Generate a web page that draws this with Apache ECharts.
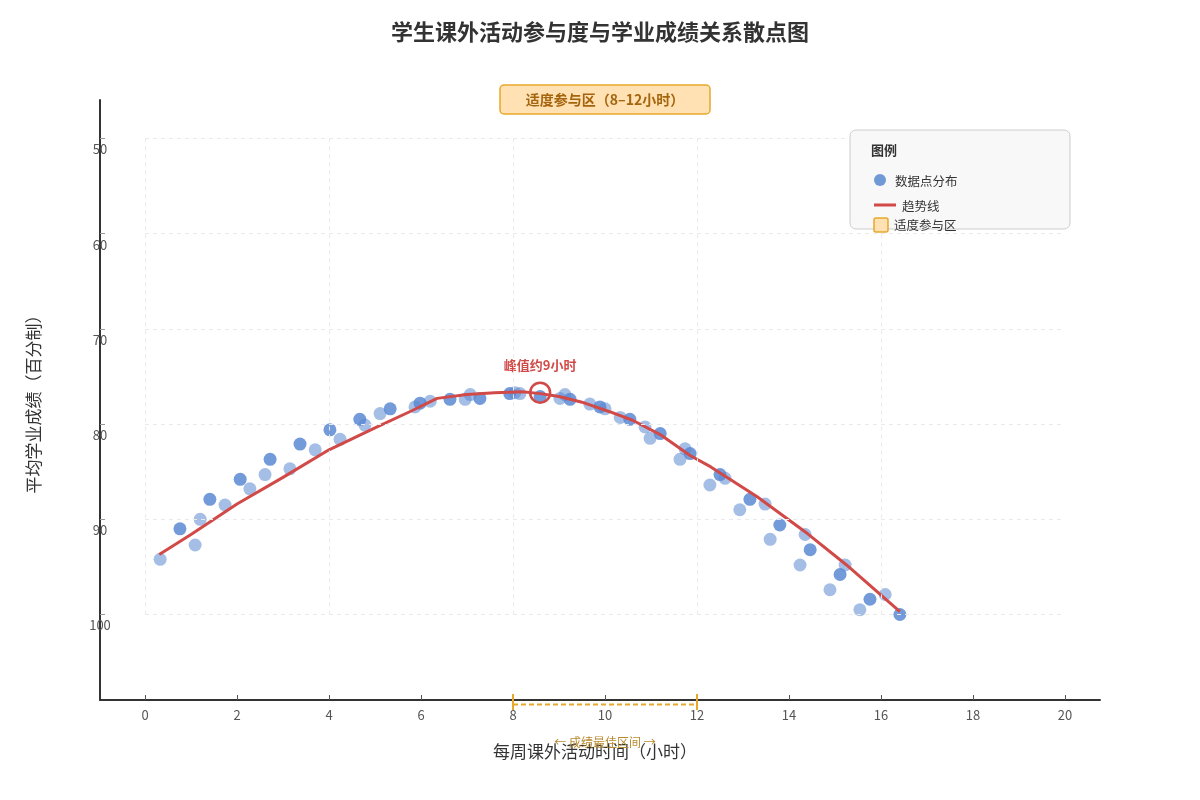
<!DOCTYPE html>
<html>
<head>
<meta charset="utf-8">
<title>学生课外活动参与度与学业成绩关系散点图</title>
<script src="https://cdn.jsdelivr.net/npm/echarts@6/dist/echarts.min.js"></script>
<style>
  html, body { margin: 0; padding: 0; background: #fff; }
  #main { width: 1200px; height: 800px; }
</style>
</head>
<body>
<div id="main"></div>
<script>
// 散点（浅色）
var lightPoints = [
  [0.33, 94.2], [1.09, 92.7], [1.20, 90.0], [1.74, 88.5], [2.28, 86.8], [2.61, 85.3],
  [3.15, 84.7], [3.70, 82.7], [4.24, 81.6], [4.78, 80.1], [5.11, 78.9], [5.87, 78.2],
  [6.20, 77.6], [6.96, 77.4], [7.07, 76.9], [8.04, 76.7], [8.15, 76.8], [9.02, 77.3],
  [9.13, 76.9], [9.67, 77.9], [10.00, 78.4], [10.33, 79.3], [10.87, 80.3], [10.98, 81.5],
  [11.63, 83.7], [11.74, 82.6], [12.28, 86.4], [12.61, 85.7], [12.93, 89.0], [13.48, 88.4],
  [13.59, 92.1], [14.24, 94.8], [14.35, 91.6], [14.89, 97.4], [15.22, 94.8], [15.54, 99.5],
  [16.09, 97.9]
];
// 散点（深色，重叠点）
var darkPoints = [
  [0.76, 91.0], [1.41, 87.9], [2.07, 85.8], [2.72, 83.7], [3.37, 82.1], [4.02, 80.6],
  [4.67, 79.5], [5.33, 78.4], [5.98, 77.8], [6.63, 77.4], [7.28, 77.3], [7.93, 76.8],
  [8.59, 77.1], [9.24, 77.4], [9.89, 78.2], [10.54, 79.5], [11.20, 81.0], [11.85, 83.1],
  [12.50, 85.3], [13.15, 87.9], [13.80, 90.6], [14.46, 93.2], [15.11, 95.8], [15.76, 98.4],
  [16.41, 100.0]
];
// 趋势线
var trendX = [0.31, 1, 2, 3, 4, 5, 5.8, 6.35, 7, 7.6, 8.2, 8.6, 9.0, 9.5, 10.1, 10.6, 11.2, 11.85, 12.3, 13.3, 14.4, 15.25, 16.41];
var trendY = [93.7, 91.6, 88.4, 85.6, 82.7, 80.4, 78.6, 77.3, 76.9, 76.7, 76.6, 76.8, 77.1, 77.7, 78.7, 79.6, 81.1, 83.3, 84.5, 87.6, 91.5, 94.8, 99.7];
// 峰值标注
var peakPoint = [8.59, 76.7];
// 适度参与区
var zoneRange = [8, 12];
// 刻度
var xTicks = [0, 2, 4, 6, 8, 10, 12, 14, 16, 18, 20];
var yTicks = [50, 60, 70, 80, 90, 100];
var xGridLines = [0, 4, 8, 12, 16];

var font = '"Noto Sans CJK SC", "Noto Sans", sans-serif';
var red = '#d14a48';
var blue = '#5b88d2';
var orange = '#e8a82a';

var chart = echarts.init(document.getElementById('main'));

// 网格虚线
var gridMarks = [];
xGridLines.forEach(function (v) {
  gridMarks.push([{ coord: [v, yTicks[0]] }, { coord: [v, yTicks[yTicks.length - 1]] }]);
});
yTicks.forEach(function (v) {
  gridMarks.push([{ coord: [xTicks[0], v] }, { coord: [xTicks[xTicks.length - 1], v] }]);
});

var option = {
  animation: false,
  textStyle: { fontFamily: font },
  title: {
    text: '学生课外活动参与度与学业成绩关系散点图',
    left: 'center',
    top: 16,
    textStyle: { fontSize: 22, fontWeight: 'bold', color: '#333', fontFamily: font }
  },
  grid: { left: 100, right: 100, top: 100, bottom: 100 },
  xAxis: {
    type: 'value',
    min: -0.978,
    max: 20.76,
    name: '每周课外活动时间（小时）',
    nameLocation: 'middle',
    nameGap: 43,
    nameTextStyle: { fontSize: 17, color: '#333', padding: [0, 10, 0, 0], fontFamily: font },
    axisLine: { onZero: false, lineStyle: { color: '#333', width: 2 } },
    axisTick: { inside: true, length: 5, customValues: xTicks, lineStyle: { color: '#555' } },
    axisLabel: { customValues: xTicks, margin: 9, fontSize: 13, color: '#555' },
    splitLine: { show: false }
  },
  yAxis: {
    type: 'value',
    inverse: true,
    min: 45.96,
    max: 108.98,
    name: '平均学业成绩（百分制）',
    nameLocation: 'middle',
    nameGap: 58,
    nameTextStyle: { fontSize: 17, color: '#333', fontFamily: font },
    axisLine: { show: true, onZero: false, lineStyle: { color: '#333', width: 2 } },
    axisTick: { show: true, inside: true, length: 5, customValues: yTicks, lineStyle: { color: '#999' } },
    axisLabel: {
      customValues: yTicks,
      margin: 0,
      align: 'center',
      lineHeight: 22,
      fontSize: 13,
      color: '#555',
      formatter: function (v) { return '\n' + v; }
    },
    splitLine: { show: false }
  },
  series: [
    {
      name: '网格',
      type: 'scatter',
      data: [],
      silent: true,
      markLine: {
        silent: true,
        symbol: 'none',
        label: { show: false },
        lineStyle: { color: '#eaeaea', type: [4, 4], width: 1 },
        data: gridMarks
      }
    },
    {
      name: '数据点分布',
      type: 'scatter',
      symbolSize: 13,
      itemStyle: { color: blue, opacity: 0.55 },
      data: lightPoints
    },
    {
      name: '数据点分布',
      type: 'scatter',
      symbolSize: 13,
      itemStyle: { color: blue, opacity: 0.85 },
      data: darkPoints
    },
    {
      name: '趋势线',
      type: 'line',
      showSymbol: false,
      smooth: false,
      lineStyle: { color: red, width: 3 },
      data: trendX.map(function (x, i) { return [x, trendY[i]]; }),
      z: 3
    },
    {
      name: '峰值',
      type: 'scatter',
      symbol: 'circle',
      symbolSize: 20,
      itemStyle: { color: 'rgba(0,0,0,0)', borderColor: red, borderWidth: 2.5, opacity: 1 },
      label: {
        show: true,
        position: 'top',
        distance: 10,
        formatter: '峰值约9小时',
        color: red,
        fontSize: 13,
        fontWeight: 'bold',
        fontFamily: font
      },
      data: [peakPoint],
      z: 4
    }
  ]
};
chart.setOption(option);

// 注释与图例
var pL = chart.convertToPixel({ gridIndex: 0 }, [zoneRange[0], 50]);
var pR = chart.convertToPixel({ gridIndex: 0 }, [zoneRange[1], 50]);
var cx = (pL[0] + pR[0]) / 2;
var axisY = 700;

chart.setOption({
  graphic: [
    {
      type: 'rect',
      shape: { x: cx - 105, y: 85, width: 210, height: 29, r: 4 },
      style: { fill: '#ffe1b3', stroke: orange, lineWidth: 1.5 },
      z: 10
    },
    {
      type: 'text',
      x: cx,
      y: 99.5,
      style: {
        text: '适度参与区（8–12小时）',
        fill: '#a5650f',
        font: 'bold 14px ' + font,
        align: 'center',
        verticalAlign: 'middle'
      },
      z: 11
    },
    {
      type: 'line',
      shape: { x1: pL[0], y1: axisY + 4.5, x2: pR[0], y2: axisY + 4.5 },
      style: { stroke: orange, lineWidth: 2, lineDash: [5, 3] },
      z: 10
    },
    {
      type: 'line',
      shape: { x1: pL[0], y1: axisY - 6, x2: pL[0], y2: axisY + 10 },
      style: { stroke: orange, lineWidth: 2 },
      z: 10
    },
    {
      type: 'line',
      shape: { x1: pR[0], y1: axisY - 6, x2: pR[0], y2: axisY + 10 },
      style: { stroke: orange, lineWidth: 2 },
      z: 10
    },
    {
      type: 'text',
      x: cx,
      y: 742,
      style: {
        text: '← 成绩最佳区间 →',
        fill: '#b98a2e',
        font: '12px ' + font,
        align: 'center',
        verticalAlign: 'middle'
      },
      z: 10
    },
    // 图例
    {
      type: 'rect',
      shape: { x: 850, y: 130, width: 220, height: 99, r: 6 },
      style: { fill: '#f8f8f8', stroke: '#cccccc', lineWidth: 1 },
      z: 10
    },
    {
      type: 'text', x: 871, y: 150,
      style: { text: '图例', fill: '#333', font: 'bold 13px ' + font, verticalAlign: 'middle' },
      z: 11
    },
    {
      type: 'circle', shape: { cx: 880, cy: 180, r: 6 },
      style: { fill: '#7099d6' }, z: 11
    },
    {
      type: 'text', x: 895, y: 181,
      style: { text: '数据点分布', fill: '#333', font: '12.5px ' + font, verticalAlign: 'middle' },
      z: 11
    },
    {
      type: 'line', shape: { x1: 874, y1: 205, x2: 896, y2: 205 },
      style: { stroke: red, lineWidth: 3 }, z: 11
    },
    {
      type: 'text', x: 902, y: 206,
      style: { text: '趋势线', fill: '#333', font: '12.5px ' + font, verticalAlign: 'middle' },
      z: 11
    },
    {
      type: 'rect', shape: { x: 874, y: 218, width: 14, height: 14, r: 2 },
      style: { fill: '#ffe1b3', stroke: orange, lineWidth: 1.5 }, z: 11
    },
    {
      type: 'text', x: 894, y: 225,
      style: { text: '适度参与区', fill: '#333', font: '12.5px ' + font, verticalAlign: 'middle' },
      z: 11
    }
  ]
});
</script>
</body>
</html>
